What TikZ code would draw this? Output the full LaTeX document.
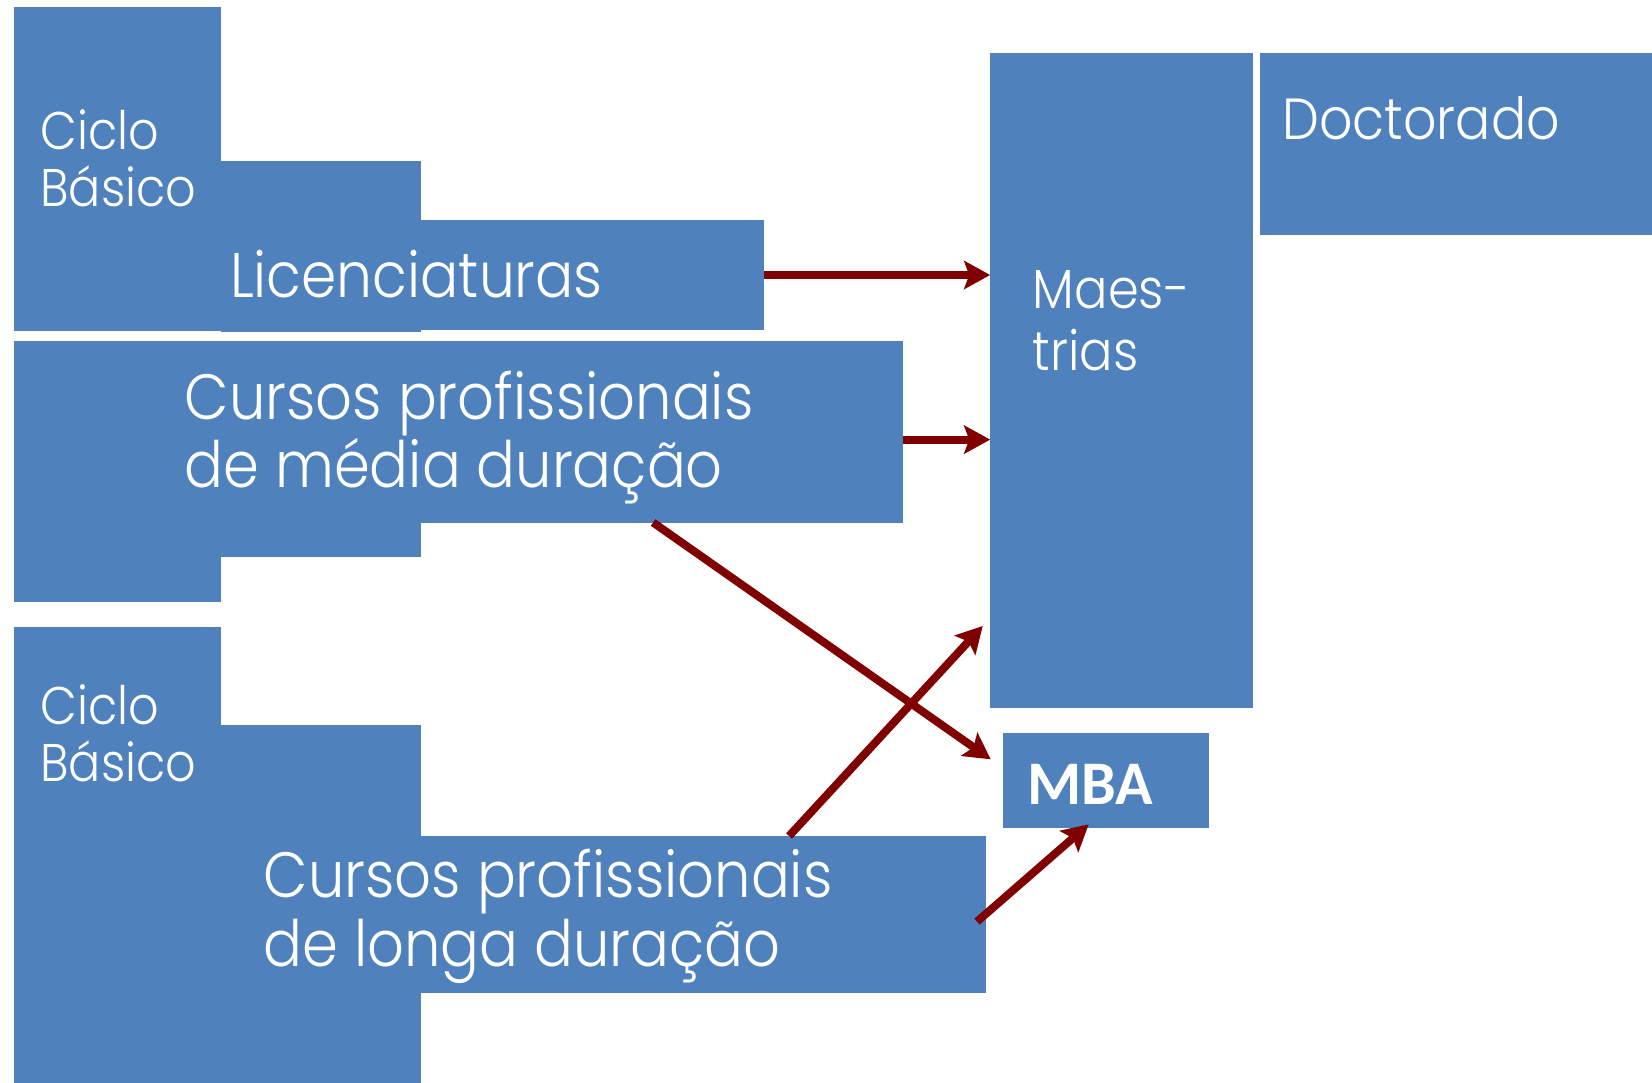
\documentclass[tikz,border=0pt]{standalone}
\usepackage{fontspec}
\setmainfont{Poppins}[UprightFont=* Light, FakeStretch=0.9]
\newfontfamily\mbafont{Carlito}
\usetikzlibrary{arrows.meta}
\definecolor{boxblue}{HTML}{4F81BD}
\definecolor{arrowred}{HTML}{800000}
\tikzset{
  blk/.style={fill=boxblue, inner sep=0pt, outer sep=0pt, anchor=north west},
  lbl/.style={text=white, inner sep=0pt, anchor=base west, align=left},
  link/.style={draw=arrowred, line width=4pt, -{Stealth[length=13pt,width=14pt,inset=2.5pt]}}
}
\begin{document}
\begin{tikzpicture}[x=0.5pt,y=-0.5pt]
\useasboundingbox (0,0) rectangle (1652,1082);
\node[blk, minimum width=103.5pt, minimum height=162pt]   (cb1) at (13.7,7.4) {};
\node[blk, minimum width=100.25pt, minimum height=85.25pt] (st1) at (220.5,161) {};
\node[blk, minimum width=171.5pt, minimum height=55pt]    (lic) at (421,220) {};
\node[blk, minimum width=103.5pt, minimum height=130.65pt] (cb2) at (13.7,340.7) {};
\node[blk, minimum width=203.65pt, minimum height=107.9pt] (st2) at (13.7,340.7) {};
\node[blk, minimum width=444.4pt, minimum height=90.9pt]  (med) at (13.7,340.7) {};
\node[blk, minimum width=103.5pt, minimum height=230pt]   (cb3) at (13.7,626.7) {};
\node[blk, minimum width=100.25pt, minimum height=180pt]  (st3) at (220.5,725.3) {};
\node[blk, minimum width=282.65pt, minimum height=78.65pt] (lon) at (421,836) {};
\node[blk, minimum width=131.4pt, minimum height=327.15pt] (mae) at (990.2,53.4) {};
\node[blk, minimum width=200pt, minimum height=90.8pt]    (doc) at (1259.8,53.4) {};
\node[blk, minimum width=103pt, minimum height=47.2pt]    (mba) at (1002.7,733.3) {};

% base west of a two-line label sits on its last line
\node[lbl, font=\fontsize{26.5}{28.5}\selectfont] (tcb1) at (40,206.5) {Ciclo\\Básico};
\node[lbl, font=\fontsize{31.5}{34}\selectfont] (tlic) at (229.7,297) {Licenciaturas};
\node[lbl, font=\fontsize{32}{34.4}\selectfont] (tmed) at (184.4,487.8) {Cursos profissionais\\de média duração};
\node[lbl, font=\fontsize{26.5}{28.5}\selectfont] (tcb3) at (40,781.8) {Ciclo\\Básico};
\node[lbl, font=\fontsize{32}{34.2}\selectfont] (tlon) at (263.4,966) {Cursos profissionais\\de longa duração};
\node[lbl, font=\fontsize{27.5}{31}\selectfont] (tmae) at (1032.5,370.9) {Maes-\\trias};
\node[lbl, font=\fontsize{29}{29}\selectfont] (tdoc) at (1282,139) {Doctorado};
\node[lbl, font=\mbafont\bfseries\fontsize{31}{31}\selectfont] (tmba) at (1027,804) {MBA};

\draw[link] (lic.east) -- (lic.east -| mae.west);
\draw[link] ([yshift=-4pt]med.east) -- ([yshift=-4pt]med.east -| mae.west);
\draw[link] ([xshift=97.5pt]med.south) -- ([xshift=-6pt,yshift=-13pt]mba.north west);
\draw[link] ([xshift=42.7pt]lon.north) -- ([xshift=-3.75pt,yshift=40.85pt]mae.south west);
\draw[link] ([xshift=-4.65pt,yshift=-3.5pt]lon.east) -- ([xshift=-8.5pt,yshift=1.7pt]mba.south);
\end{tikzpicture}
\end{document}
